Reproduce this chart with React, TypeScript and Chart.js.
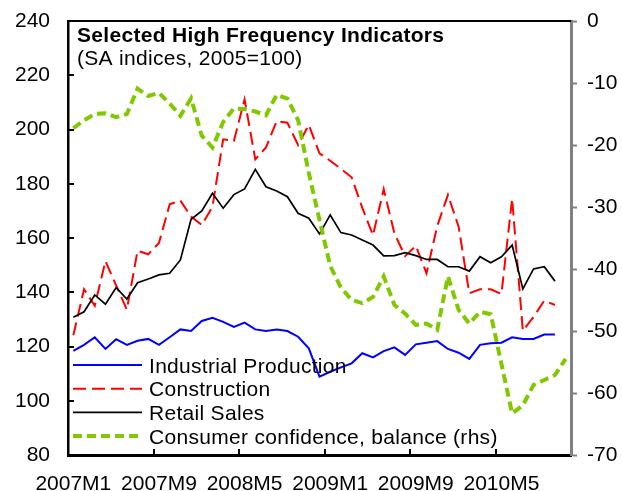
import React, { useEffect, useRef } from 'react';
import { Chart, registerables } from 'chart.js';

Chart.register(...registerables);

const months = [
  '2007M1','2007M2','2007M3','2007M4','2007M5','2007M6','2007M7','2007M8','2007M9','2007M10','2007M11','2007M12',
  '2008M1','2008M2','2008M3','2008M4','2008M5','2008M6','2008M7','2008M8','2008M9','2008M10','2008M11','2008M12',
  '2009M1','2009M2','2009M3','2009M4','2009M5','2009M6','2009M7','2009M8','2009M9','2009M10','2009M11','2009M12',
  '2010M1','2010M2','2010M3','2010M4','2010M5','2010M6','2010M7','2010M8','2010M9','2010M10','2010M11',
];

const shownMonths = ['2007M1', '2007M9', '2008M5', '2009M1', '2009M9', '2010M5'];

const industrialProduction = [
  118.4, 120.6, 123.4, 119.1, 122.7, 120.6, 122.1, 122.8, 120.6, 123.4, 126.3, 125.7,
  129.4, 130.6, 129.1, 127.2, 128.8, 126.3, 125.7, 126.3, 125.7, 123.6, 119.3, 108.9,
  110.7, 112.3, 113.8, 117.5, 116.0, 118.3, 119.7, 116.9, 120.8, 121.4, 122.0, 119.1,
  117.7, 115.4, 120.6, 121.2, 121.4, 123.4, 122.8, 122.8, 124.4, 124.4,
];

const construction = [
  124.2, 141.1, 135.0, 151.5, 142.5, 133.6, 155.3, 154.0, 158.2, 172.4, 173.8, 167.9,
  164.8, 171.5, 196.4, 195.8, 211.1, 189.0, 193.4, 203.1, 202.5, 194.3, 201.7, 191.2,
  188.5, 185.5, 182.4, 171.1, 161.0, 178.0, 161.7, 153.3, 157.1, 147.0, 164.4, 175.9,
  164.2, 139.6, 141.1, 141.1, 139.4, 174.5, 125.8, 130.9, 136.9, 135.3,
];

const retailSales = [
  130.8, 132.8, 139.0, 135.6, 141.7, 137.5, 143.5, 144.9, 146.4, 147.0, 151.9, 166.9,
  170.0, 176.5, 171.0, 176.0, 178.1, 185.3, 178.9, 177.3, 175.2, 169.1, 167.3, 161.5,
  168.5, 162.0, 161.1, 159.3, 157.4, 153.4, 153.5, 154.6, 153.5, 152.1, 152.1, 149.4,
  149.4, 147.8, 153.1, 150.9, 153.1, 157.4, 141.2, 148.6, 149.4, 144.1,
];

const consumerConfidence = [
  -17.3, -16.0, -15.0, -14.9, -15.5, -15.0, -10.9, -12.1, -11.6, -13.3, -15.3, -12.5,
  -18.5, -20.4, -16.3, -14.1, -14.2, -14.6, -15.2, -11.9, -12.5, -16.0, -24.5, -32.1,
  -39.5, -43.0, -45.0, -45.5, -44.5, -41.2, -45.8, -47.2, -49.0, -48.8, -49.8, -41.2,
  -46.6, -48.8, -46.9, -47.3, -55.3, -63.3, -62.0, -58.7, -57.9, -57.1, -54.5,
];

const leftTicks = [80, 100, 120, 140, 160, 180, 200, 220, 240];
const rightTicks = [0, -10, -20, -30, -40, -50, -60, -70];

const chartTitle = 'Selected High Frequency Indicators';
const chartSubtitle = '(SA indices, 2005=100)';

const FONT = "'Liberation Sans', Arial, sans-serif";

const decorPlugin = {
  id: 'decor',
  afterDatasetsDraw(chart: any) {
    const { ctx, chartArea: ca, scales } = chart;
    ctx.save();
    ctx.strokeStyle = '#000';
    ctx.lineWidth = 2;
    // top frame line
    ctx.beginPath();
    ctx.moveTo(ca.left, ca.top);
    ctx.lineTo(ca.right, ca.top);
    ctx.stroke();
    // inward left ticks
    const ys = scales.y;
    ys.ticks.forEach((t: any) => {
      const py = Math.round(ys.getPixelForValue(t.value));
      ctx.beginPath();
      ctx.moveTo(ca.left, py);
      ctx.lineTo(ca.left + 6, py);
      ctx.stroke();
    });
    // inward bottom ticks at category boundaries
    const xs = scales.x;
    months.forEach((m, i) => {
      if (i > 0 && shownMonths.includes(m)) {
        const px = Math.round((xs.getPixelForValue(i - 1) + xs.getPixelForValue(i)) / 2);
        ctx.beginPath();
        ctx.moveTo(px, ca.bottom);
        ctx.lineTo(px, ca.bottom - 6);
        ctx.stroke();
      }
    });
    // title
    ctx.fillStyle = '#000';
    ctx.textBaseline = 'alphabetic';
    ctx.textAlign = 'left';
    try { ctx.letterSpacing = '0.3px'; } catch (e) { /* ignore */ }
    ctx.font = `bold 21px ${FONT}`;
    ctx.fillText(chartTitle, ca.left + 9, ca.top + 21);
    ctx.font = `21px ${FONT}`;
    ctx.fillText(chartSubtitle, ca.left + 9, ca.top + 44);
    // legend
    const ds = chart.data.datasets;
    ds.forEach((d: any, row: number) => {
      const ry = ca.bottom - 90 + row * 23.7;
      ctx.save();
      ctx.strokeStyle = d.borderColor;
      ctx.lineWidth = d.borderWidth;
      ctx.setLineDash(d.borderDash || []);
      ctx.beginPath();
      ctx.moveTo(ca.left + 5, ry);
      ctx.lineTo(ca.left + 74, ry);
      ctx.stroke();
      ctx.restore();
      ctx.fillStyle = '#000';
      ctx.font = `21px ${FONT}`;
      ctx.fillText(d.label, ca.left + 81, ry + 7.5);
    });
    ctx.restore();
  },
};

export default function App() {
  const ref = useRef<HTMLCanvasElement | null>(null);

  useEffect(() => {
    if (!ref.current) return;
    const chart = new Chart(ref.current, {
      type: 'line',
      data: {
        labels: months,
        datasets: [
          {
            label: 'Industrial Production',
            data: industrialProduction,
            yAxisID: 'y',
            borderColor: '#0000FF',
            borderWidth: 2,
            pointRadius: 0,
            tension: 0,
            order: 3,
          },
          {
            label: 'Construction',
            data: construction,
            yAxisID: 'y',
            borderColor: '#FF0000',
            borderWidth: 2,
            borderDash: [13, 6],
            pointRadius: 0,
            tension: 0,
            order: 2,
          },
          {
            label: 'Retail Sales',
            data: retailSales,
            yAxisID: 'y',
            borderColor: '#000000',
            borderWidth: 1.7,
            pointRadius: 0,
            tension: 0,
            order: 1,
          },
          {
            label: 'Consumer confidence, balance (rhs)',
            data: consumerConfidence,
            yAxisID: 'y1',
            borderColor: '#80C800',
            borderWidth: 4,
            borderDash: [9, 5],
            pointRadius: 0,
            tension: 0,
            order: 0,
          },
        ],
      },
      options: {
        responsive: false,
        animation: false,
        layout: { padding: { top: 21, left: 0, right: 0, bottom: 0 } },
        plugins: {
          legend: { display: false },
          tooltip: { enabled: false },
          title: { display: false },
        },
        scales: {
          x: {
            type: 'category',
            offset: true,
            grid: { display: false, offset: true, drawTicks: false },
            border: { display: true, color: '#000', width: 3 },
            ticks: {
              autoSkip: false,
              maxRotation: 0,
              minRotation: 0,
              padding: 17,
              color: '#000',
              font: { family: FONT, size: 21 },
              callback: (_v: any, i: number) => (shownMonths.includes(months[i]) ? months[i] : ''),
            },
            afterFit: (s: any) => { s.height = 36; s.paddingLeft = 0; s.paddingRight = 0; },
          },
          y: {
            position: 'left',
            min: 80,
            max: 240,
            afterBuildTicks: (s: any) => { s.ticks = leftTicks.map((v) => ({ value: v })); },
            grid: { display: false, drawTicks: false },
            border: { display: true, color: '#000', width: 2.5 },
            ticks: {
              padding: 18,
              color: '#000',
              font: { family: FONT, size: 21 },
            },
            afterFit: (s: any) => { s.width = 68; s.paddingTop = 0; s.paddingBottom = 0; },
          },
          y1: {
            position: 'right',
            min: -70,
            max: 0,
            afterBuildTicks: (s: any) => { s.ticks = rightTicks.map((v) => ({ value: v })); },
            grid: {
              display: true,
              drawOnChartArea: false,
              drawTicks: true,
              tickLength: 6,
              tickColor: '#808080',
              tickWidth: 2,
            },
            border: { display: true, color: '#808080', width: 3 },
            ticks: {
              padding: 10,
              color: '#000',
              font: { family: FONT, size: 21 },
            },
            afterFit: (s: any) => { s.width = 51; s.paddingTop = 0; s.paddingBottom = 0; },
          },
        },
      },
      plugins: [decorPlugin],
    });
    return () => chart.destroy();
  }, []);

  return (
    <div style={{ position: 'fixed', left: 0, top: 0, width: 622, height: 491, background: '#fff' }}>
      <canvas ref={ref} width={622} height={491} style={{ display: 'block' }} />
    </div>
  );
}
